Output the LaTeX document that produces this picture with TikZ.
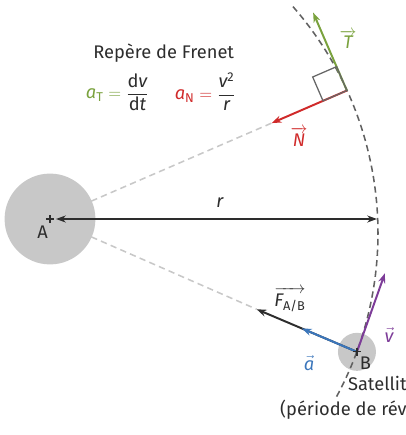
\documentclass[tikz,border=0pt]{standalone}
\usepackage{amsmath}
\usepackage{fontspec}
\setmainfont{Fira Sans}
\usetikzlibrary{arrows.meta,calc}
\definecolor{frenetT}{RGB}{122,162,62}
\definecolor{frenetN}{RGB}{208,42,42}
\definecolor{accblue}{RGB}{59,118,187}
\definecolor{velpurple}{RGB}{125,60,152}
\definecolor{bodygray}{RGB}{200,200,200}
\definecolor{inkgray}{RGB}{45,45,45}

\begin{document}
\begin{tikzpicture}[
    x=0.025cm, y=0.025cm,
    font=\fontsize{13}{17.7}\selectfont,
    body/.style={circle, fill=bodygray, draw=none, inner sep=0pt},
    ray/.style={bodygray, line width=1.1pt, dash pattern=on 4.5pt off 3pt},
    orbit/.style={black!62, line width=1.1pt, dash pattern=on 4.5pt off 3pt},
    vecarr/.style={-{Stealth[length=7pt, width=5pt]}, line width=1.4pt},
    rarr/.style={{Stealth[length=7pt, width=5pt]}-{Stealth[length=7pt, width=5pt]}, line width=1.1pt, inkgray},
    lbl/.style={text=inkgray, inner sep=0pt}
]
    \useasboundingbox (-50,-216) rectangle (356,219);
    \clip (-50,-216) rectangle (356,219);

    \coordinate (A) at (0,0);
    \coordinate (O) at (-16,-14);
    \coordinate (P) at (23.4:323.5);
    \coordinate (B) at (-23.4:334.5);
    \coordinate (rend) at (327,0);
    \coordinate (Ttip) at ($(P)+(113.4:85)$);
    \coordinate (Ntip) at ($(P)+(203.4:82)$);
    \coordinate (vtip) at ($(B)+(70.4:83.5)$);
    \coordinate (atip) at ($(B)+(157:60)$);
    \coordinate (Ftip) at ($(B)+(157:109)$);

    % bodies
    \node[body, minimum size=2.27cm] (planet) at (A) {};
    \node[body, minimum size=0.95cm] (sat) at (B) {};

    % radial guides and orbit
    \draw[ray] (23.4:45) -- (Ntip);
    \draw[ray] (-23.4:45) -- (Ftip);
    \draw[orbit] (O) ++(-28.4:344) arc[start angle=-28.4, end angle=41.4, radius=344];

    \draw[rarr, shorten <=0.15cm] (A) -- (rend);
    \node[lbl] (rlab) at (170,16) {\textit{r}};

    % satellite vectors
    \draw[vecarr, inkgray] (B) -- (Ftip);
    \draw[vecarr, accblue] (B) -- (atip);
    \draw[vecarr, velpurple] (B) -- (vtip);

    % Frenet frame
    \draw[vecarr, frenetN] (P) -- (Ntip);
    \draw[vecarr, frenetT] (P) -- (Ttip);
    \draw[black!60, line width=0.9pt] (P) -- ++(113.4:26) -- ++(203.4:26) -- ++(-66.6:26) -- cycle;

    % centres
    \draw[inkgray, line width=0.8pt] (A) +(-4,0) -- +(4,0) (A) +(0,-4) -- +(0,4);
    \draw[inkgray, line width=0.8pt] (B) +(-4,0) -- +(4,0) (B) +(0,-4) -- +(0,4);
    \node[lbl] (Alab) at (-7.3,-12.7) {A};
    \node[lbl] (Blab) at ($(B)+(8.4,-11)$) {B};

    % vector labels
    \node[text=frenetT, inner sep=0pt] (Tlab) at ($(Ttip)+(35,-27)$) {$\overrightarrow{\textit{T}}$};
    \node[text=frenetN, inner sep=0pt] (Nlab) at ($(Ntip)+(27.5,-14)$) {$\overrightarrow{\textit{N}}$};
    \node[text=velpurple, inner sep=0pt] (vlab) at ($(B)+(32,17)$) {$\vec{\textit{v}}$};
    \node[text=accblue, inner sep=0pt] (alab) at ($(B)+(-48,-11)$) {$\vec{\textit{a}}$};
    \node[lbl] (Flab) at ($(B)+(-67,52)$) {$\overrightarrow{\textit{F}_{\text{A/B}}}$};

    % Frenet formulas
    \node[lbl] (title) at (113.7,165.7) {Repère de Frenet};
    \node[lbl] (aT) at (67.5,127)
        {$\textcolor{frenetT}{\textit{a}_{\text{T}}}\mathrel{\textcolor{frenetT}{=}}\dfrac{\text{d}\textit{v}}{\text{d}\textit{t}}$};
    \node[lbl] (aN) at (155.5,127)
        {$\textcolor{frenetN}{\textit{a}_{\text{N}}}\mathrel{\textcolor{frenetN}{=}}\dfrac{\textit{v}^{\text{2}}}{\textit{r}}$};

    \node[lbl, align=right, anchor=east] (satlab) at (357,-178.5) {Satellit\\(période de rév};
\end{tikzpicture}
\end{document}
